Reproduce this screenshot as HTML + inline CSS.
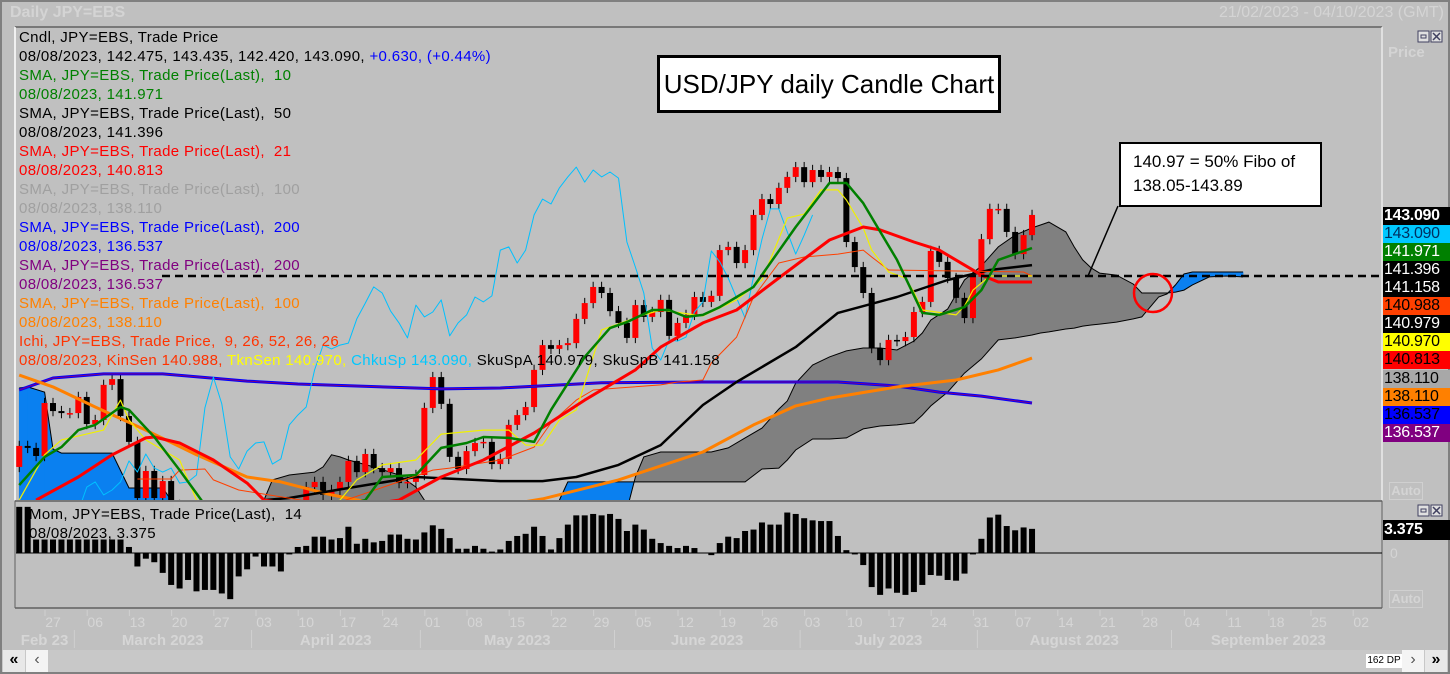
<!DOCTYPE html>
<html><head><meta charset="utf-8">
<style>
html,body{margin:0;padding:0;background:#c0c0c0;}
#root{position:relative;width:1450px;height:674px;overflow:hidden;background:#c0c0c0;font-family:"Liberation Sans",sans-serif;}
svg{position:absolute;left:0;top:0;}
.lg{position:absolute;left:19px;font-size:15px;line-height:19px;white-space:pre;letter-spacing:0.35px;}
.ax{position:absolute;left:1383px;width:67px;height:18px;font-size:16px;line-height:18px;padding-left:1px;letter-spacing:-0.3px;}
</style></head>
<body>
<div id="root">
<svg id="svg" width="1450" height="674"></svg>

<div style="position:absolute;left:10px;top:4px;font-size:16px;font-weight:bold;color:#d4d4d4;">Daily JPY=EBS</div>
<div style="position:absolute;right:6px;top:4px;font-size:16px;color:#d4d4d4;">21/02/2023 - 04/10/2023 (GMT)</div>
<div style="position:absolute;left:1388px;top:44px;font-size:15px;font-weight:bold;color:#d4d4d4;">Price</div>
<div style="position:absolute;left:1389px;top:482px;width:32px;height:16px;border:1px solid #d0d0d0;font-size:13px;font-weight:bold;color:#d4d4d4;text-align:center;">Auto</div>
<div style="position:absolute;left:1389px;top:590px;width:32px;height:16px;border:1px solid #d0d0d0;font-size:13px;font-weight:bold;color:#d4d4d4;text-align:center;">Auto</div>
<div style="position:absolute;left:1390px;top:545px;font-size:14px;color:#d4d4d4;">0</div>

<div class="lg" style="top:28px;color:#000">Cndl, JPY=EBS, Trade Price</div>
<div class="lg" style="top:47px;color:#000">08/08/2023, 142.475, 143.435, 142.420, 143.090, <span style="color:#0000ff">+0.630, (+0.44%)</span></div>
<div class="lg" style="top:66px;color:#008000">SMA, JPY=EBS, Trade Price(Last),  10</div>
<div class="lg" style="top:85px;color:#008000">08/08/2023, 141.971</div>
<div class="lg" style="top:104px;color:#000">SMA, JPY=EBS, Trade Price(Last),  50</div>
<div class="lg" style="top:123px;color:#000">08/08/2023, 141.396</div>
<div class="lg" style="top:142px;color:#ff0000">SMA, JPY=EBS, Trade Price(Last),  21</div>
<div class="lg" style="top:161px;color:#ff0000">08/08/2023, 140.813</div>
<div class="lg" style="top:180px;color:#a0a0a0">SMA, JPY=EBS, Trade Price(Last),  100</div>
<div class="lg" style="top:199px;color:#a0a0a0">08/08/2023, 138.110</div>
<div class="lg" style="top:218px;color:#0000ff">SMA, JPY=EBS, Trade Price(Last),  200</div>
<div class="lg" style="top:237px;color:#0000ff">08/08/2023, 136.537</div>
<div class="lg" style="top:256px;color:#800080">SMA, JPY=EBS, Trade Price(Last),  200</div>
<div class="lg" style="top:275px;color:#800080">08/08/2023, 136.537</div>
<div class="lg" style="top:294px;color:#ff8000">SMA, JPY=EBS, Trade Price(Last),  100</div>
<div class="lg" style="top:313px;color:#ff8000">08/08/2023, 138.110</div>
<div class="lg" style="top:332px;color:#ff3300">Ichi, JPY=EBS, Trade Price,  9, 26, 52, 26, 26</div>
<div class="lg" style="top:351px;color:#ff3300">08/08/2023, KinSen 140.988, <span style="color:#ffff00">TknSen 140.970,</span> <span style="color:#00c8ff">ChkuSp 143.090,</span> <span style="color:#000">SkuSpA 140.979, SkuSpB 141.158</span></div>

<div class="lg" style="top:505px;left:29px;color:#000">Mom, JPY=EBS, Trade Price(Last),  14</div>
<div class="lg" style="top:524px;left:29px;color:#000">08/08/2023, 3.375</div>

<div style="position:absolute;left:657px;top:55px;width:338px;height:52px;background:#fff;border:3px solid #000;font-size:26px;line-height:52px;text-align:center;">USD/JPY daily Candle Chart</div>
<div style="position:absolute;left:1119px;top:142px;width:187px;height:47px;background:#fff;border:2px solid #000;font-size:17px;line-height:24px;padding:6px 0 8px 12px;">140.97 = 50% Fibo of<br>138.05-143.89</div>

<div class="ax" style="top:207px;background:#000;color:#fff;font-weight:bold;">143.090</div>
<div class="ax" style="top:225px;background:#00c8ff;color:#003060;">143.090</div>
<div class="ax" style="top:243px;background:#008000;color:#fff;">141.971</div>
<div class="ax" style="top:261px;background:#000;color:#fff;">141.396</div>
<div class="ax" style="top:279px;background:#000;color:#fff;">141.158</div>
<div class="ax" style="top:297px;background:#ff4000;color:#000;">140.988</div>
<div class="ax" style="top:315px;background:#000;color:#fff;">140.979</div>
<div class="ax" style="top:333px;background:#ffff00;color:#000;">140.970</div>
<div class="ax" style="top:351px;background:#ff0000;color:#000;">140.813</div>
<div class="ax" style="top:370px;background:#a8a8a8;color:#000;">138.110</div>
<div class="ax" style="top:388px;background:#ff8000;color:#000;">138.110</div>
<div class="ax" style="top:406px;background:#0000ff;color:#000;">136.537</div>
<div class="ax" style="top:424px;background:#800080;color:#fff;">136.537</div>
<div class="ax" style="top:520px;height:20px;line-height:20px;background:#000;color:#fff;font-weight:bold;">3.375</div>

<div style="position:absolute;left:2px;top:650px;width:1446px;height:22px;background:#c8c8c8;"></div>
<div style="position:absolute;left:3px;top:650px;width:22px;height:22px;background:#e8e8e8;font-size:16px;line-height:20px;text-align:center;font-weight:bold;">«</div>
<div style="position:absolute;left:26px;top:650px;width:22px;height:22px;background:#f4f4f4;font-size:16px;line-height:20px;text-align:center;color:#555;">‹</div>
<div style="position:absolute;left:1366px;top:654px;width:36px;height:14px;background:#fff;font-size:10px;line-height:14px;text-align:center;white-space:nowrap;">162 DP</div>
<div style="position:absolute;left:1402px;top:650px;width:22px;height:22px;background:#f4f4f4;font-size:16px;line-height:20px;text-align:center;color:#555;">›</div>
<div style="position:absolute;left:1425px;top:650px;width:22px;height:22px;background:#e8e8e8;font-size:16px;line-height:20px;text-align:center;font-weight:bold;">»</div>
</div>

<script>
// ===== data (trading-day index 0 = Mon 27 Feb 2023) =====
const firstIndex = -4;
const firstOpen = 134.34;
const closes = [135.07,135.00,134.72,136.56,136.28,136.21,136.21,136.77,135.83,135.97,137.19,137.39,136.11,135.21,133.26,134.20,133.26,133.85,133.02,
132.5,132.2,131.8,132.3,131.6,131.3,131.1,131.5,130.9,130.6,131.2,131.0,131.7,132.3,132.8,
133.64,133.82,133.37,133.54,133.82,134.55,134.16,134.79,134.30,134.16,
134.30,133.78,133.82,134.06,136.39,137.46,136.53,134.69,134.27,134.89,
135.17,135.21,134.44,134.62,135.80,136.14,136.42,137.71,138.57,138.44,
138.57,138.64,139.48,140.03,140.59,140.38,139.75,139.34,138.82,139.96,
139.55,139.72,140.14,138.89,139.34,139.62,140.24,140.07,140.28,141.87,
141.98,141.42,141.87,143.09,143.64,143.47,144.03,144.41,144.75,144.23,
144.65,144.41,144.58,144.37,142.15,141.28,140.38,138.47,138.05,138.75,
138.71,138.85,139.72,140.07,141.84,141.46,140.90,140.21,139.51,140.94,
142.25,143.30,143.30,142.50,141.73,142.39,143.09];
const wickPad = 0.18;

const sma10Idx = [-4,-1,1,3,5,8,9,12,15,18,27,37,39,43,46,49,51,54,57,59,63,66,68,71,73,75,77,79,83,88,92,94,96,100,103,105,108,110,112,116];
const sma10Val = [133.71,134.69,135.03,135.62,135.80,136.42,136.32,135.38,134.23,133.02,132.50,133.19,133.99,134.06,135.00,135.17,135.38,135.35,135.21,136.32,138.16,139.16,139.37,139.79,139.79,139.55,139.62,139.89,140.59,142.67,144.20,144.20,143.50,141.53,139.69,139.62,139.89,140.48,141.53,141.94];

const sma21Idx = [-2,3,7,11,12,15,19,23,25,33,41,46,51,57,63,69,72,77,81,86,92,96,98,102,105,108,110,112,116];
const sma21Val = [133.19,133.99,134.76,135.35,135.38,135.17,134.58,133.78,133.19,132.85,133.19,133.99,134.58,135.52,136.66,137.71,138.50,139.34,139.79,140.90,142.22,142.67,142.57,142.15,141.87,141.35,141.00,140.76,140.76];

const sma50Idx = [25,28,35,43,53,58,62,67,72,77,81,88,93,100,106,111,116];
const sma50Val = [133.19,133.26,133.61,133.99,133.85,133.85,133.99,134.41,135.10,136.49,137.29,138.50,139.69,140.24,140.83,141.18,141.35];

const sma100Idx = [-4,0,5,11,17,23,27,33,41,50,58,67,77,83,88,92,100,107,112,116];
const sma100Val = [137.53,137.12,136.42,135.62,134.76,133.99,133.82,133.37,132.91,132.85,133.23,133.89,134.86,135.80,136.46,136.73,137.12,137.36,137.71,138.12];

const sma200Idx = [-4,0,6,13,23,29,46,53,65,77,93,100,105,110,116];
const sma200Val = [137.01,137.43,137.57,137.57,137.32,137.22,137.05,137.08,137.26,137.29,137.29,137.15,136.94,136.80,136.56];

const tenkanIdx = [-4,-1,1,6,8,9,11,15,17,26,34,36,39,43,46,51,54,56,58,60,62,65,70,72,77,81,84,87,89,91,93,94,96,97,99,101,102,103,107,108,109,111,116];
const tenkanVal = [133.19,134.76,135.28,135.62,136.66,135.97,135.28,134.58,133.19,132.50,133.19,133.89,134.41,134.58,135.48,135.62,135.62,135.10,135.10,135.97,136.32,139.10,139.62,139.79,139.58,140.14,140.83,142.98,143.12,143.96,143.96,143.61,142.64,141.87,141.11,140.90,140.41,139.79,139.62,139.93,140.48,140.97,140.97];

const kijunIdx = [10,14,15,18,19,22,33,45,47,53,57,59,62,64,67,72,74,77,78,81,83,86,89,93,96,97,99,115,116];
const kijunVal = [133.92,133.92,134.23,134.27,133.89,133.54,133.02,134.23,134.30,134.58,135.03,135.87,136.66,137.01,137.08,137.19,137.29,137.36,137.95,138.85,140.24,141.42,141.63,141.73,141.87,141.63,141.18,141.11,140.97];

const spanIdx = [-4,-3,-1,0,1,7,9,13,14,15,24,25,26,28,31,32,33,34,35,38,41,43,44,45,59,60,61,68,
69,70,72,76,78,80,82,84,86,87,88,90,92,94,96,98,100,102,103,104,106,108,110,112,114,116,117,118,120,121,122,123,124,126,128,129,131,132,133,134,135,137,139,141];
const spanA = [132.50,132.50,132.50,132.50,132.50,132.50,132.50,132.50,132.50,132.33,132.33,133.19,133.89,134.06,134.16,134.34,134.76,134.69,134.58,134.34,134.06,133.64,133.19,132.50,132.50,132.50,132.85,132.85,
133.99,134.69,134.86,134.86,134.86,135.00,135.35,135.69,136.35,136.63,137.25,137.88,138.16,138.37,138.47,138.47,138.40,138.71,138.99,139.44,139.82,140.83,141.32,141.98,142.39,142.64,142.74,142.84,142.50,141.98,141.53,141.25,141.07,141.00,140.69,140.38,140.38,140.38,140.41,140.48,140.66,140.94,140.97,140.94];
const spanB = [137.08,137.12,136.94,134.96,134.82,134.82,133.61,133.61,133.19,132.67,132.67,132.50,132.50,132.50,132.50,132.50,132.50,132.50,132.50,132.50,132.50,132.50,132.50,132.67,132.67,133.19,133.82,133.82,
133.82,133.82,133.82,133.82,133.82,133.82,133.82,134.27,134.30,134.58,134.93,135.31,135.31,135.35,135.66,135.76,135.80,135.87,136.14,136.46,136.94,137.60,138.09,138.75,138.82,138.92,138.99,139.03,139.13,139.16,139.23,139.27,139.30,139.37,139.48,139.55,140.24,140.35,140.66,141.04,141.11,141.11,141.11,141.11];

const momentum = [6.5,6.5,1.9,1.9,1.9,1.9,1.9,1.9,1.9,1.9,1.9,1.9,1.9,0.85,
-1.9,-0.8,-1.3,-2.8,-4.5,-5.0,-3.8,-5.4,-5.2,-5.2,-5.7,-6.5,-3.3,-2.3,-0.5,-1.9,-1.9,-2.6,-0.2,
0.85,1.0,2.3,2.3,1.9,2.1,3.7,1.3,2.0,1.5,1.7,2.6,2.6,2.0,1.9,2.9,3.9,3.4,2.1,0.6,0.6,1.0,0.6,0.2,0.5,1.7,2.4,2.7,3.7,2.4,0.5,2.1,4.0,5.3,5.3,5.5,5.3,5.5,4.8,3.1,4.0,3.3,2.0,1.4,1.0,0.7,1.0,0.7,0,-0.3,1.4,
2.3,2.1,3.1,3.3,4.3,4.0,4.0,5.7,5.5,4.9,4.6,4.5,4.5,2.4,0.4,-0.2,-1.7,-4.8,-5.9,-5.0,-5.6,-5.9,-5.5,-4.5,-3.1,-3.2,-3.8,-3.9,-2.9,-0.2,2.0,5.0,5.4,3.8,3.2,3.6,3.4];

const fiboLevel = 140.97;
const dayLabels = ["27","06","13","20","27","03","10","17","24","01","08","15","22","29","05","12","19","26","03","10","17","24","31","07","14","21","28","04","11","18","25","02"];
const monthLabels = ["Feb 23","March 2023","April 2023","May 2023","June 2023","July 2023","August 2023","September 2023"];
const monthStartIdx = [-4,3,24,44,67,89,110,133];
const monthEndIdx = [2,23,43,66,88,109,132,155];

// ===== scales =====
const X0 = 53, DX = 8.44, Y0 = 276, PY = 28.8, MZ = 553, MY = 7.1;
function xs(i){ return X0 + DX * i; }
function ys(p){ return Y0 + (fiboLevel - p) * PY; }
function ms(v){ return MZ - v * MY; }

const NS = 'http://www.w3.org/2000/svg';
const svg = document.getElementById('svg');
function el(tag, parent){ const e = document.createElementNS(NS, tag); (parent||svg).appendChild(e); return e; }

let r = el('rect'); r.setAttribute('x',1); r.setAttribute('y',1); r.setAttribute('width',1448); r.setAttribute('height',672); r.setAttribute('fill','none'); r.setAttribute('stroke','#808080'); r.setAttribute('stroke-width',2);



const defs = el('defs');
const cp = el('clipPath', defs); cp.setAttribute('id','mainclip');
const cr = el('rect', cp); cr.setAttribute('x',16); cr.setAttribute('y',28); cr.setAttribute('width',1366); cr.setAttribute('height',472);
const cp2 = el('clipPath', defs); cp2.setAttribute('id','momclip');
const cr2 = el('rect', cp2); cr2.setAttribute('x',16); cr2.setAttribute('y',504); cr2.setAttribute('width',1366); cr2.setAttribute('height',103);

function line(x1,y1,x2,y2,col,w,parent){ const l = el('line',parent); l.setAttribute('x1',x1); l.setAttribute('y1',y1); l.setAttribute('x2',x2); l.setAttribute('y2',y2); l.setAttribute('stroke',col); l.setAttribute('stroke-width',w); return l; }
let b;
b = line(15,27,1382,27,'#606060',1.5);


b = line(15,27,15,500,'#ffffff',1.5);


b = line(1382,27,1382,500,'#ffffff',1);


b = line(15,501,1382,501,'#606060',1.5);


b = line(15,501,15,608,'#606060',1);


b = line(1382,501,1382,608,'#606060',1);


b = line(15,608,1382,608,'#606060',1.5);



const main = el('g'); main.setAttribute('clip-path','url(#mainclip)');



for (let k = 0; k < spanIdx.length - 1; k++) {
  const xa = xs(spanIdx[k]), xb = xs(spanIdx[k+1]);
  const up = (spanA[k] + spanA[k+1]) >= (spanB[k] + spanB[k+1]);
  const p = el('polygon', main);
  p.setAttribute('points', xa+','+ys(spanA[k])+' '+xb+','+ys(spanA[k+1])+' '+xb+','+ys(spanB[k+1])+' '+xa+','+ys(spanB[k]));
  p.setAttribute('fill', up ? '#808080' : '#0a80f0');
  p.setAttribute('stroke', up ? '#808080' : '#0a80f0');
  p.setAttribute('stroke-width', 0.6);
  
  
}
function pathFrom(idx, vals){ let d=''; for (let k=0;k<idx.length;k++){ d += (k?'L':'M') + xs(idx[k]).toFixed(1) + ',' + ys(vals[k]).toFixed(1); } return d; }
let sa = el('path', main); sa.setAttribute('d', pathFrom(spanIdx, spanA)); sa.setAttribute('fill','none'); sa.setAttribute('stroke','#000'); sa.setAttribute('stroke-width',1);


let sb = el('path', main); sb.setAttribute('d', pathFrom(spanIdx, spanB)); sb.setAttribute('fill','none'); sb.setAttribute('stroke','#000'); sb.setAttribute('stroke-width',1);



let prev = firstOpen;
for (let k = 0; k < closes.length; k++) {
  const i = firstIndex + k, o = prev, c = closes[k];
  const hi = Math.max(o,c) + wickPad, lo = Math.min(o,c) - wickPad;
  const x = xs(i);
  const g = el('g', main);
  
  
  line(x, ys(hi), x, ys(lo), '#000', 1, g);
  const rc = el('rect', g);
  const top = ys(Math.max(o,c)), bot = ys(Math.min(o,c));
  rc.setAttribute('x', x - 3); rc.setAttribute('width', 6);
  rc.setAttribute('y', top); rc.setAttribute('height', Math.max(1.5, bot - top));
  rc.setAttribute('fill', c >= o ? '#ff0000' : '#000000');
  prev = c;
}

function series(idx, vals, col, w, name){
  const p = el('path', main);
  p.setAttribute('d', pathFrom(idx, vals));
  p.setAttribute('fill','none'); p.setAttribute('stroke',col); p.setAttribute('stroke-width',w); p.setAttribute('stroke-linejoin','round');
  
  
  return p;
}
series(sma200Idx, sma200Val, '#0000ff', 3, 'sma200-blue-line');
series(sma200Idx, sma200Val, '#800080', 1, 'sma200-purple-line');
series(sma100Idx, sma100Val, '#ff8000', 3, 'sma100-line');
series(sma50Idx, sma50Val, '#000000', 2.5, 'sma50-line');
const chIdx = [], chVal = [];
for (let k = 26; k < closes.length; k++) { chIdx.push(firstIndex + k - 26); chVal.push(closes[k]); }
series(chIdx, chVal, '#00c0ff', 1, 'chikou-span-line');
series(kijunIdx, kijunVal, '#ff4000', 1, 'kijun-sen-line');
series(tenkanIdx, tenkanVal, '#f0f000', 1.2, 'tenkan-sen-line');
series(sma21Idx, sma21Val, '#ff0000', 3, 'sma21-line');
series(sma10Idx, sma10Val, '#008000', 2.5, 'sma10-line');

const fl = line(162, ys(fiboLevel), 1382, ys(fiboLevel), '#000', 2.5, main);
fl.setAttribute('stroke-dasharray','8,5');


const pointer = line(1118, 206, 1088, ys(fiboLevel), '#000', 1.5, main);


const circ = el('ellipse', main);
circ.setAttribute('cx', 1153); circ.setAttribute('cy', 293); circ.setAttribute('rx', 19); circ.setAttribute('ry', 19);
circ.setAttribute('fill','none'); circ.setAttribute('stroke','#ff0000'); circ.setAttribute('stroke-width',2.5);



const mom = el('g'); mom.setAttribute('clip-path','url(#momclip)');


const zl = line(16, MZ, 1382, MZ, '#000', 1, mom);


for (let k = 0; k < momentum.length; k++) {
  const v = momentum[k], x = xs(firstIndex + k);
  const rc = el('rect', mom);
  rc.setAttribute('x', x - 3); rc.setAttribute('width', 6);
  rc.setAttribute('y', Math.min(ms(v), MZ)); rc.setAttribute('height', Math.max(0.5, Math.abs(ms(v) - MZ)));
  rc.setAttribute('fill', '#000');
  
  
}

function icon(x,y,name){
  const g = el('g');
  
  
  const a = el('rect', g); a.setAttribute('x',x); a.setAttribute('y',y); a.setAttribute('width',11); a.setAttribute('height',11); a.setAttribute('fill','#e0e0e0'); a.setAttribute('stroke','#404060');
  const a2 = el('rect', g); a2.setAttribute('x',x+3); a2.setAttribute('y',y+4); a2.setAttribute('width',5); a2.setAttribute('height',3); a2.setAttribute('fill','none'); a2.setAttribute('stroke','#404060');
  const c = el('rect', g); c.setAttribute('x',x+13); c.setAttribute('y',y); c.setAttribute('width',11); c.setAttribute('height',11); c.setAttribute('fill','#e0e0e0'); c.setAttribute('stroke','#404060');
  line(x+15,y+2,x+22,y+9,'#404060',1.5,g); line(x+22,y+2,x+15,y+9,'#404060',1.5,g);
}
icon(1418, 31, 'main-panel-window-controls');
icon(1418, 505, 'mom-panel-window-controls');

for (let k = 0; k < dayLabels.length; k++) {
  const t = el('text');
  t.setAttribute('x', xs(5*k)); t.setAttribute('y', 627); t.setAttribute('text-anchor','middle');
  t.setAttribute('font-family','Liberation Sans, sans-serif'); t.setAttribute('font-size', 14); t.setAttribute('fill','#d6d6d6');
  t.textContent = dayLabels[k];
  
  
  const tk = line(xs(5*k)-8, 610, xs(5*k)-8, 616, '#d0d0d0', 1);
  
  
}
for (let k = 0; k < monthLabels.length; k++) {
  const a = Math.max(xs(monthStartIdx[k]), 16), z = Math.min(xs(monthEndIdx[k]), 1380);
  const t = el('text');
  t.setAttribute('x', (a+z)/2); t.setAttribute('y', 645); t.setAttribute('text-anchor','middle');
  t.setAttribute('font-family','Liberation Sans, sans-serif'); t.setAttribute('font-size', 15); t.setAttribute('font-weight','bold'); t.setAttribute('fill','#d6d6d6');
  t.textContent = monthLabels[k];
  
  
  if (k > 0) {
    const s = line(a - 4, 630, a - 4, 648, '#d0d0d0', 1);
    
    
  }
}
</script>
</body></html>
